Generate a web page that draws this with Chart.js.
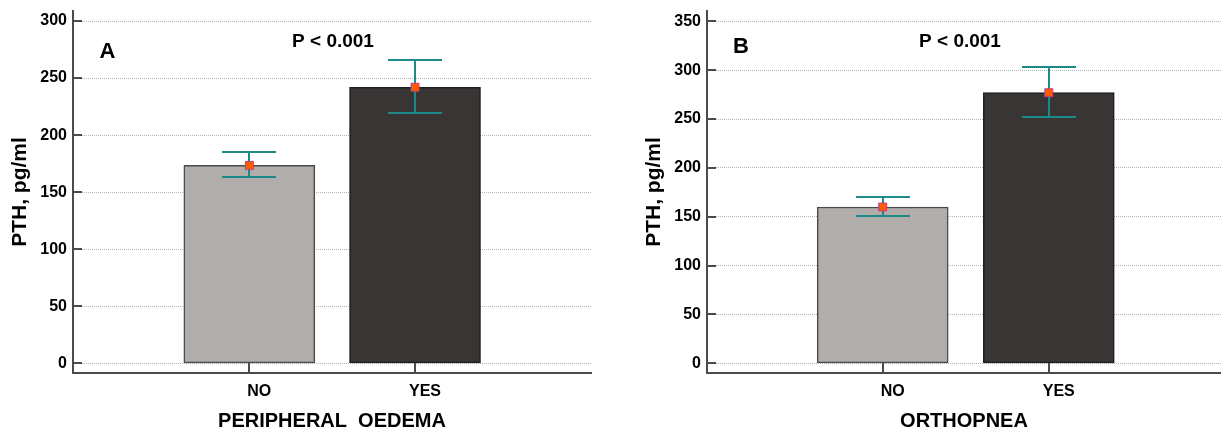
<!DOCTYPE html>
<html><head><meta charset="utf-8">
<script src="https://cdn.jsdelivr.net/npm/chart.js@4.4.1/dist/chart.umd.min.js"></script>
<style>
html,body{margin:0;padding:0;background:#fff;width:1221px;height:434px;overflow:hidden;position:relative}
#a{position:absolute;left:0;top:0}
#b{position:absolute;left:610px;top:0}
</style></head><body>
<canvas id="a" width="610" height="434"></canvas>
<canvas id="b" width="620" height="434"></canvas>
<script>
// ---- data ----
const categories = ['NO', 'YES'];
const catPositions = [1, 2];
const meanA = [173.5, 242];
const lowA = [163, 219];
const highA = [185, 266];
const meanB = [160, 277];
const lowB = [151, 252];
const highB = [170, 303];
const yTicksA = [0, 50, 100, 150, 200, 250, 300];
const yTicksB = [0, 50, 100, 150, 200, 250, 300, 350];
const panelLetters = ['A', 'B'];
const pText = 'P < 0.001';
const xTitles = ['PERIPHERAL  OEDEMA', 'ORTHOPNEA'];
const yTitle = 'PTH, pg/ml';

const FAMILY = "'Liberation Sans', Arial, Helvetica, sans-serif";
const AXIS = '#4a4a4a';

function decorPlugin(low, high, letter, letterX, letterY, pX, pY) {
  return {
    id: 'decor',
    afterDatasetDraw(chart, args) {
      if (args.meta.type !== 'bar') return;
      const y = chart.scales.y, ctx = chart.ctx;
      ctx.save();
      ctx.strokeStyle = '#1b8a88';
      ctx.lineWidth = 2;
      args.meta.data.forEach((bar, i) => {
        const x = Math.round(bar.x);
        const yl = Math.round(y.getPixelForValue(low[i]));
        const yh = Math.round(y.getPixelForValue(high[i]));
        ctx.beginPath();
        ctx.moveTo(x, yl); ctx.lineTo(x, yh);
        ctx.moveTo(x - 27, yl); ctx.lineTo(x + 27, yl);
        ctx.moveTo(x - 27, yh); ctx.lineTo(x + 27, yh);
        ctx.stroke();
      });
      ctx.restore();
    },
    afterDraw(chart) {
      const {ctx, chartArea, scales: {x, y}} = chart;
      ctx.save();
      ctx.strokeStyle = AXIS;
      ctx.lineWidth = 2;
      y.ticks.forEach(t => {
        const py = Math.round(y.getPixelForValue(t.value));
        ctx.beginPath(); ctx.moveTo(chartArea.left, py); ctx.lineTo(chartArea.left + 9, py); ctx.stroke();
      });
      x.ticks.forEach(t => {
        const px = Math.round(x.getPixelForValue(t.value));
        ctx.beginPath(); ctx.moveTo(px, chartArea.bottom); ctx.lineTo(px, chartArea.bottom - 10); ctx.stroke();
      });
      ctx.fillStyle = '#000';
      ctx.textAlign = 'center';
      ctx.textBaseline = 'alphabetic';
      ctx.font = 'bold 22px ' + FAMILY;
      ctx.fillText(letter, letterX, letterY);
      ctx.font = 'bold 19px ' + FAMILY;
      ctx.fillText(pText, pX, pY);
      ctx.restore();
    }
  };
}

function makeChart(id, o) {
  const pts = catPositions.map((x, i) => ({x: x, y: o.mean[i]}));
  return new Chart(document.getElementById(id), {
    type: 'bar',
    data: {
      datasets: [
        {
          type: 'bar', data: pts, order: 2,
          backgroundColor: ['#b0adab', '#393534'],
          borderColor: ['#4a4a4a', '#1e1e1e'],
          borderWidth: 1.5, borderSkipped: false, barThickness: 131
        },
        {
          type: 'line', data: pts, order: 1, showLine: false,
          pointStyle: 'rect', pointRadius: 5.6,
          pointBackgroundColor: '#ff5a00', pointBorderColor: '#c0407a', pointBorderWidth: 1
        }
      ]
    },
    options: {
      responsive: false, animation: false, devicePixelRatio: 1,
      layout: {padding: {left: 0, top: o.top, right: o.right, bottom: 0}},
      plugins: {legend: {display: false}, tooltip: {enabled: false}},
      scales: {
        x: {
          type: 'linear', min: o.xmin, max: o.xmax, offset: false,
          afterBuildTicks: s => { s.ticks = catPositions.map(v => ({value: v})); },
          afterFit: s => { s.height = 61; s.paddingLeft = 0; s.paddingRight = 0; },
          grid: {display: false, offset: false},
          border: {display: true, color: AXIS, width: 2},
          ticks: {
            callback: v => { const k = catPositions.indexOf(v); return k >= 0 ? categories[k] : ''; },
            font: {family: FAMILY, size: 16, weight: 'bold'}, color: '#000',
            padding: 1, labelOffset: 10, maxRotation: 0, autoSkip: false
          },
          title: {
            display: true, text: o.xTitle, color: '#000',
            font: {family: FAMILY, size: 20, weight: 'bold'},
            padding: {top: 0, bottom: 1}
          }
        },
        y: {
          type: 'linear', min: o.ymin, max: o.ymax,
          afterBuildTicks: s => { s.ticks = o.yTicks.map(v => ({value: v})); },
          afterFit: s => { s.width = o.yw; s.paddingTop = 0; s.paddingBottom = 0; },
          grid: {display: true, drawTicks: false, color: '#b4b4b4', lineWidth: 1},
          border: {display: true, color: AXIS, width: 2, dash: [1, 1]},
          ticks: {
            callback: v => String(v),
            font: {family: FAMILY, size: 16, weight: 'bold'}, color: '#000', padding: 6
          },
          title: {
            display: true, text: yTitle, color: '#000',
            font: {family: FAMILY, size: 21, weight: 'bold'},
            padding: {top: o.ytp, bottom: 0}
          }
        }
      }
    },
    plugins: [decorPlugin(o.low, o.high, o.letter, o.lx, o.ly, o.px, o.py)]
  });
}

makeChart('a', {
  mean: meanA, low: lowA, high: highA, yTicks: yTicksA, xTitle: xTitles[0],
  letter: panelLetters[0], lx: 107.5, ly: 58, px: 333, py: 47,
  top: 11, right: 19, yw: 73, ytp: 7.4,
  xmin: -0.064, xmax: 3.062, ymin: -8.5, ymax: 308.8
});
makeChart('b', {
  mean: meanB, low: lowB, high: highB, yTicks: yTicksB, xTitle: xTitles[1],
  letter: panelLetters[1], lx: 131, ly: 53, px: 350, py: 47,
  top: 11, right: 9, yw: 97, ytp: 31.4,
  xmin: -0.058, xmax: 3.037, ymin: -9.9, ymax: 360.6
});
</script>
</body></html>
